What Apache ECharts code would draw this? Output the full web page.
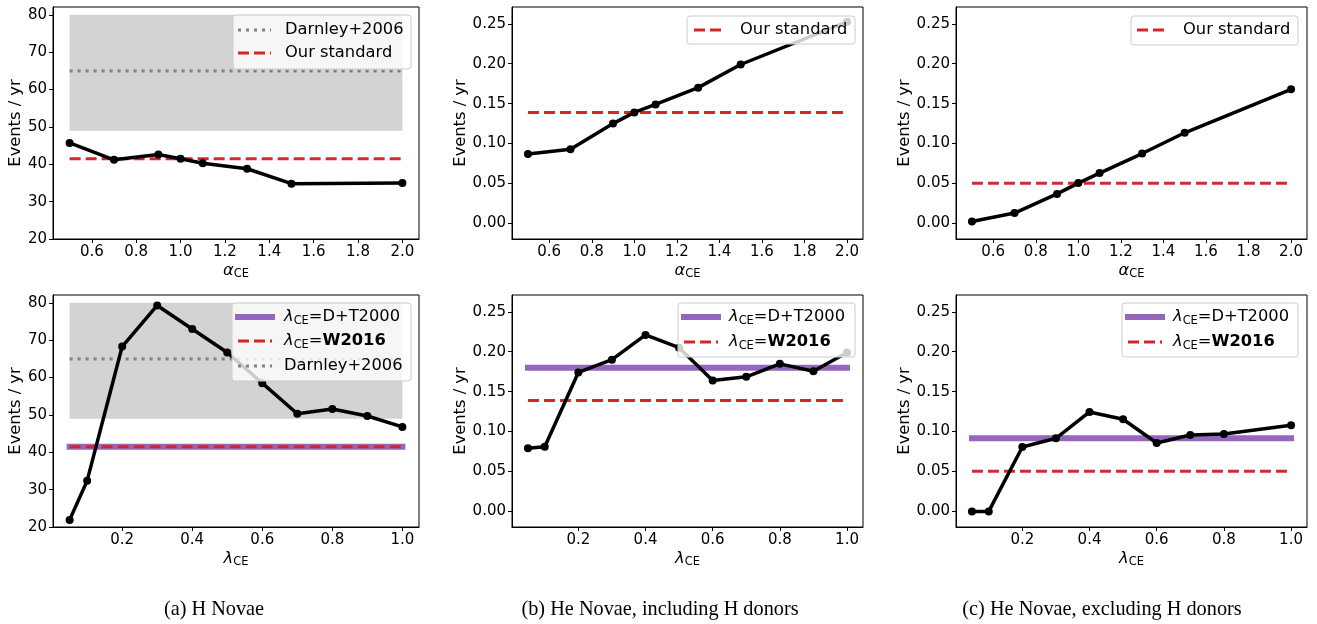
<!DOCTYPE html>
<html><head><meta charset="utf-8">
<script src="https://cdn.jsdelivr.net/npm/echarts@6/dist/echarts.min.js"></script>
<style>html,body{margin:0;padding:0;background:#fff}#c{width:1317px;height:624px}</style>
</head><body><div id="c"></div>
<script>
// ---------- data ----------
const alphaCE = [0.5, 0.7, 0.9, 1.0, 1.1, 1.3, 1.5, 2.0];
const hNovaeAlpha = [45.7, 41.2, 42.6, 41.5, 40.3, 38.8, 34.8, 35.0];
const heInclAlpha = [0.087, 0.093, 0.125, 0.139, 0.149, 0.170, 0.199, 0.2525];
const heExclAlpha = [0.0025, 0.013, 0.037, 0.0505, 0.063, 0.0875, 0.1135, 0.168];

const lambdaCE = [0.05, 0.1, 0.2, 0.3, 0.4, 0.5, 0.6, 0.7, 0.8, 0.9, 1.0];
const hNovaeLambda = [21.9, 32.4, 68.3, 79.3, 73.0, 66.7, 58.5, 50.3, 51.6, 49.7, 46.8];
const heInclLambda = [0.079, 0.081, 0.174, 0.190, 0.221, 0.205, 0.164, 0.1685, 0.1848, 0.1756, 0.199];
const lambdaCEExcl = [0.05, 0.1, 0.2, 0.3, 0.4, 0.5, 0.6, 0.7, 0.8, 1.0];
const heExclLambda = [0, 0, 0.0807, 0.0916, 0.1246, 0.1154, 0.0857, 0.0957, 0.097, 0.1079];

// reference levels: [H novae, He incl. H donors, He excl. H donors]
const ourStandard = [41.5, 0.139, 0.0503];
const dt2000 = [41.5, 0.1798, 0.0916];
const darnleyRate = 65;
const darnleyRange = [49, 80];

const alphaTicks = [0.6, 0.8, 1.0, 1.2, 1.4, 1.6, 1.8, 2.0];
const lambdaTicks = [0.2, 0.4, 0.6, 0.8, 1.0];
const hTicks = [20, 30, 40, 50, 60, 70, 80];
const heTicks = [0, 0.05, 0.10, 0.15, 0.20, 0.25];
const captions = ['(a) H Novae', '(b) He Novae, including H donors', '(c) He Novae, excluding H donors'];

// ---------- styles ----------
const FONT = 'DejaVu Sans';
const RED = '#d62728', PURPLE = '#9467bd', GRAY = '#808080', BAND = '#d3d3d3';
const DASH = [11, 5], DOT = [3, 5];

const grids = [
  {left: 53, top: 7, width: 366, height: 232},
  {left: 512, top: 7, width: 351, height: 232},
  {left: 956, top: 7, width: 351, height: 232},
  {left: 53, top: 295, width: 366, height: 232},
  {left: 512, top: 295, width: 351, height: 232},
  {left: 956, top: 295, width: 351, height: 232}
].map(g => Object.assign(g, {show: true, borderColor: '#000', borderWidth: 1, backgroundColor: 'transparent'}));

function makeRich(fs) {
  return {
    g: {fontFamily: FONT, fontSize: fs, fontStyle: 'italic', lineHeight: 19, color: '#000'},
    s: {fontFamily: FONT, fontSize: fs * 0.7, lineHeight: 12.5, verticalAlign: 'bottom', color: '#000'},
    t: {fontFamily: FONT, fontSize: fs, lineHeight: 19, color: '#000'},
    b: {fontFamily: FONT, fontSize: fs, lineHeight: 19, fontWeight: 'bold', color: '#000'}
  };
}
const axisRich = makeRich(16.3);
const legendRich = makeRich(16.3);

function xAxisDef(i, min, max, ticks, sym) {
  return {
    type: 'value', gridIndex: i, min: min, max: max,
    name: '{g|' + sym + '}{s|CE}', nameLocation: 'middle', nameGap: 22,
    nameTextStyle: {rich: axisRich},
    axisLine: {show: true, onZero: false, lineStyle: {color: '#000', width: 1}},
    axisTick: {show: true, length: 4, lineStyle: {color: '#000'}, customValues: ticks},
    axisLabel: {color: '#000', fontFamily: FONT, fontSize: 15, margin: 6, customValues: ticks,
      formatter: v => (+v).toFixed(1)},
    splitLine: {show: false}
  };
}
function yAxisDef(i, min, max, ticks, dec, gap) {
  return {
    type: 'value', gridIndex: i, min: min, max: max,
    name: 'Events / yr', nameLocation: 'middle', nameGap: gap,
    nameTextStyle: {color: '#000', fontFamily: FONT, fontSize: 16.3},
    axisLine: {show: true, onZero: false, lineStyle: {color: '#000', width: 1}},
    axisTick: {show: true, length: 4, lineStyle: {color: '#000'}, customValues: ticks},
    axisLabel: {color: '#000', fontFamily: FONT, fontSize: 15, margin: 6, customValues: ticks,
      formatter: v => (+v).toFixed(dec)},
    splitLine: {show: false}
  };
}

const xAxes = [
  xAxisDef(0, 0.425, 2.075, alphaTicks, 'α'),
  xAxisDef(1, 0.425, 2.075, alphaTicks, 'α'),
  xAxisDef(2, 0.425, 2.075, alphaTicks, 'α'),
  xAxisDef(3, 0.0025, 1.0475, lambdaTicks, 'λ'),
  xAxisDef(4, 0.0025, 1.0475, lambdaTicks, 'λ'),
  xAxisDef(5, 0.0025, 1.0475, lambdaTicks, 'λ')
];
const yAxes = [
  yAxisDef(0, 20, 82.1, hTicks, 0, 24),
  yAxisDef(1, -0.0195, 0.271, heTicks, 2, 41),
  yAxisDef(2, -0.0195, 0.271, heTicks, 2, 41),
  yAxisDef(3, 20, 82.1, hTicks, 0, 24),
  yAxisDef(4, -0.0195, 0.271, heTicks, 2, 41),
  yAxisDef(5, -0.0195, 0.271, heTicks, 2, 41)
];

const zip = (xs, ys) => xs.map((x, k) => [x, ys[k]]);
const first = a => a[0], last = a => a[a.length - 1];

function dataLine(i, xs, ys) {
  return {type: 'line', xAxisIndex: i, yAxisIndex: i, data: zip(xs, ys), z: 10,
    symbol: 'circle', symbolSize: 8, showSymbol: true, silent: true, animation: false,
    itemStyle: {color: '#000'}, lineStyle: {color: '#000', width: 3.5, join: 'round'}};
}
function hLine(i, xs, y, color, width, dash, cap, z) {
  return {type: 'line', xAxisIndex: i, yAxisIndex: i, data: [[first(xs), y], [last(xs), y]], z: z,
    symbol: 'none', silent: true, animation: false,
    lineStyle: {color: color, width: width, type: dash || 'solid', cap: cap || 'butt'}};
}
function band(i, xs) {
  return {type: 'line', xAxisIndex: i, yAxisIndex: i, data: [[first(xs), darnleyRate], [last(xs), darnleyRate]],
    z: 1, symbol: 'none', silent: true, animation: false, lineStyle: {opacity: 0},
    markArea: {silent: true, itemStyle: {color: BAND}, data: [[{coord: [first(xs), darnleyRange[0]]}, {coord: [last(xs), darnleyRange[1]]}]]}};
}

const series = [
  // (a) top
  band(0, alphaCE),
  hLine(0, alphaCE, darnleyRate, GRAY, 3, DOT, 'butt', 3),
  hLine(0, alphaCE, ourStandard[0], RED, 3, DASH, 'butt', 4),
  dataLine(0, alphaCE, hNovaeAlpha),
  // (b) top
  hLine(1, alphaCE, ourStandard[1], RED, 3, DASH, 'butt', 4),
  dataLine(1, alphaCE, heInclAlpha),
  // (c) top
  hLine(2, alphaCE, ourStandard[2], RED, 3, DASH, 'butt', 4),
  dataLine(2, alphaCE, heExclAlpha),
  // (a) bottom
  band(3, lambdaCE),
  hLine(3, lambdaCE, darnleyRate, GRAY, 3, DOT, 'butt', 3),
  hLine(3, lambdaCE, dt2000[0], PURPLE, 6, null, 'square', 3),
  hLine(3, lambdaCE, ourStandard[0], RED, 3, DASH, 'butt', 4),
  dataLine(3, lambdaCE, hNovaeLambda),
  // (b) bottom
  hLine(4, lambdaCE, dt2000[1], PURPLE, 6, null, 'square', 3),
  hLine(4, lambdaCE, ourStandard[1], RED, 3, DASH, 'butt', 4),
  dataLine(4, lambdaCE, heInclLambda),
  // (c) bottom
  hLine(5, lambdaCEExcl, dt2000[2], PURPLE, 6, null, 'square', 3),
  hLine(5, lambdaCEExcl, ourStandard[2], RED, 3, DASH, 'butt', 4),
  dataLine(5, lambdaCEExcl, heExclLambda)
];

// ---------- legends (drawn as graphics, like matplotlib legend boxes) ----------
const G = [];
function box(x, y, w, h) {
  G.push({type: 'rect', silent: true, z: 100, shape: {x: x, y: y, width: w, height: h, r: 3},
    style: {fill: 'rgba(255,255,255,0.8)', stroke: '#cccccc', lineWidth: 1}});
}
function sample(x1, x2, y, kind) {
  const st = kind === 'purple' ? {stroke: PURPLE, lineWidth: 6, lineCap: 'square'}
    : kind === 'red' ? {stroke: RED, lineWidth: 3, lineDash: DASH, lineCap: 'butt'}
    : {stroke: GRAY, lineWidth: 3, lineDash: DOT, lineCap: 'butt'};
  G.push({type: 'line', silent: true, z: 101, shape: {x1: x1, y1: y, x2: x2, y2: y}, style: st});
}
function label(x, y, text) {
  G.push({type: 'text', silent: true, z: 101, x: x, y: y,
    style: {text: text, fill: '#000', fontFamily: FONT, fontSize: 16.3, align: 'left', verticalAlign: 'middle', rich: legendRich}});
}
const TXT_DT = '{g|λ}{s|CE}{t|=D+T2000}';
const TXT_W = '{g|λ}{s|CE}{t|=}{b|W2016}';
const TXT_D = '{t|Darnley+2006}';
const TXT_S = '{t|Our standard}';

// (a) top
box(233, 15, 178, 54);
sample(238, 271, 30, 'gray'); label(285, 30, TXT_D);
sample(238, 271, 53, 'red'); label(285, 53, TXT_S);
// (b) top
box(687, 16, 168, 28);
sample(694, 726, 30, 'red'); label(740, 30, TXT_S);
// (c) top
box(1131, 16, 167, 29);
sample(1137, 1169, 30, 'red'); label(1183, 30, TXT_S);
// (a) bottom
box(232, 303, 179, 78);
sample(238, 272, 317, 'purple'); label(284, 317, TXT_DT);
sample(238, 272, 341, 'red'); label(284, 341, TXT_W);
sample(238, 272, 366, 'gray'); label(284, 366, TXT_D);
// (b) bottom
box(678, 303, 177, 54);
sample(684, 718, 317, 'purple'); label(729, 317, TXT_DT);
sample(684, 718, 342, 'red'); label(729, 342, TXT_W);
// (c) bottom
box(1122, 303, 176, 54);
sample(1128, 1162, 317, 'purple'); label(1173, 317, TXT_DT);
sample(1128, 1162, 342, 'red'); label(1173, 342, TXT_W);

// captions
[214, 660, 1102].forEach((cx, k) => {
  G.push({type: 'text', silent: true, z: 101, x: cx, y: 610,
    style: {text: captions[k], fill: '#000', fontFamily: 'Liberation Serif', fontSize: 20.3, align: 'center', verticalAlign: 'middle'}});
});

const chart = echarts.init(document.getElementById('c'), null, {renderer: 'canvas'});
chart.setOption({
  animation: false,
  backgroundColor: '#fff',
  grid: grids,
  xAxis: xAxes,
  yAxis: yAxes,
  series: series,
  graphic: {elements: G}
});
</script>
</body></html>
